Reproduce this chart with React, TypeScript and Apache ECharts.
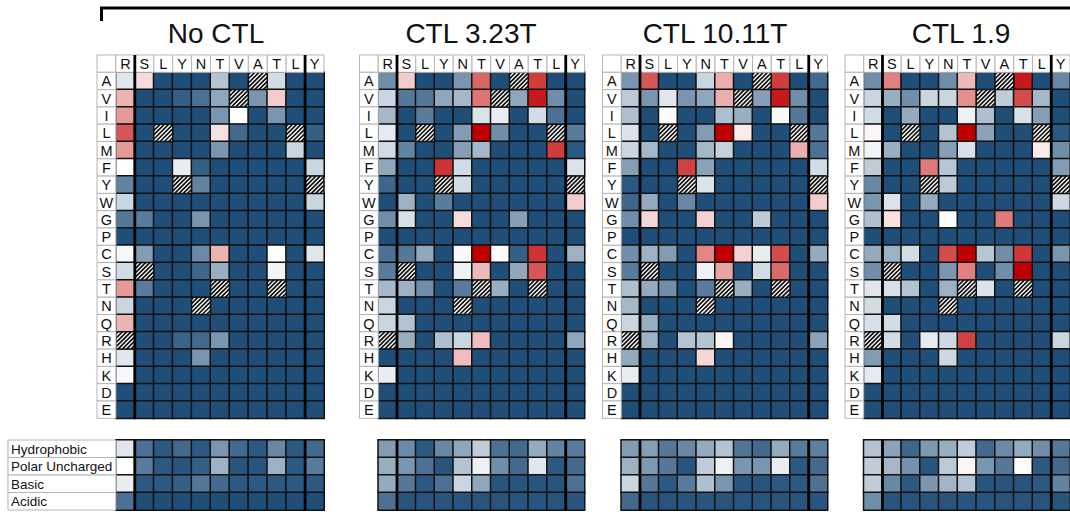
import React, { useEffect, useRef } from 'react';
import * as echarts from 'echarts';

const PANEL_TITLES = ['No CTL', 'CTL 3.23T', 'CTL 10.11T', 'CTL 1.9'];
const COLS = ['R', 'S', 'L', 'Y', 'N', 'T', 'V', 'A', 'T', 'L', 'Y'];
const ROWS = ['A', 'V', 'I', 'L', 'M', 'F', 'Y', 'W', 'G', 'P', 'C', 'S', 'T', 'N', 'Q', 'R', 'H', 'K', 'D', 'E'];
const GROUPS = ['Hydrophobic', 'Polar Uncharged', 'Basic', 'Acidic'];
const SEPARATORS_AFTER = [0, 9];

// 0 = dark blue, 5 = white, 10 = dark red; null = wild-type residue (hatched)
const noCtl = [
  [4.3, 5.7, 0, 0, 0, 3.3, 0, null, 4, 0, 0],
  [6.5, 0, 0, 0.5, 1, 2.5, null, 2, 6, 0, 0],
  [7, 0, 0, 0, 0, 2, 5, 0, 2, 0, 0],
  [8.3, 0, null, 0, 0, 5.6, 0.8, 0, 0, null, 0.5],
  [7, 0, 0, 0, 0, 2, 0, 0, 0, 3.8, 0],
  [5, 0, 0, 4.5, 0.5, 0, 0, 0, 0, 0, 3.8],
  [1.5, 0, 0, null, 1.5, 0, 0, 0, 0, 0, null],
  [3.8, 0, 0, 0, 0, 0, 0, 0, 0, 0, 3.8],
  [1.2, 1.3, 0, 0, 2, 0, 0, 0, 0, 0, 0],
  [0, 0, 0, 0, 0, 0, 0, 0, 0, 0, 0],
  [4.8, 2.2, 0, 0, 1.7, 6.5, 0, 0, 5, 0, 4.3],
  [4, null, 0, 0, 0.7, 2.7, 0, 0, 4.7, 0, 0],
  [7, 1.3, 0, 0, 0, null, 0, 0, null, 0, 0],
  [3.8, 0, 0, 0, null, 0, 0, 0, 0, 0, 0],
  [6.5, 0, 0, 0, 0, 0, 0, 0, 0, 0, 0],
  [null, 0, 0, 0.6, 0.8, 2, 0, 0, 0, 0, 0],
  [4.3, 0, 0, 0, 2, 0, 0, 0, 0, 0, 0],
  [4.8, 0, 0, 0, 0, 0, 0, 0, 0, 0, 0],
  [0, 0, 0, 0, 0, 0, 0, 0, 0, 0, 0],
  [0, 0, 0, 0, 0, 0, 0, 0, 0, 0, 0],
];

const ctl323 = [
  [1.8, 6, 0, 0, 2, 8, 0, null, 8.8, 0, 0],
  [3.8, 1.2, 1.2, 2.5, 3, 7.7, null, 2.5, 9.5, 1.8, 0],
  [3, 0, 1.3, 0, 0, 4.2, 4.5, 0, 4, 1, 0],
  [4.4, 0, null, 0, 2.2, 10, 1.8, 0, 0, null, 1.3],
  [4, 1.5, 0, 0, 2.3, 3, 0, 0, 0, 8.8, 0.3],
  [2.5, 0, 0, 9, 4, 0, 0, 0, 0, 0, 4.2],
  [0.7, 0, 0, null, 4, 0, 0, 0, 0, 0, null],
  [0, 2.8, 0, 1.3, 0, 0, 0, 0, 0, 0, 6],
  [1.8, 4.1, 0, 0, 5.7, 0, 0, 2.3, 0, 0, 0],
  [0, 0, 0, 0, 0, 0, 0, 0, 0, 0, 0],
  [1, 1.2, 2.5, 0, 4.8, 10, 5.1, 0.5, 9, 0, 2.8],
  [1.3, null, 0, 0, 4.6, 6.4, 0, 2.5, 8.3, 0, 0],
  [3, 2.8, 1.8, 0, 1.3, null, 2.7, 0, null, 0, 0],
  [3.8, 0, 0, 0, null, 0, 0, 0, 0, 0, 0],
  [3.8, 3.3, 0, 0, 0, 0, 0, 0, 0, 0, 0],
  [null, 2.7, 0, 3.2, 3.8, 6.3, 0, 0, 0, 0, 2.5],
  [0, 0, 0, 0, 6.3, 0, 0, 0, 0, 0, 0],
  [4.5, 0, 0, 0, 0, 0, 0, 0, 0, 0, 0],
  [0, 0, 0, 0, 0, 0, 0, 0, 0, 0, 0],
  [0, 0, 0, 0, 0, 0, 0, 0, 0, 0, 0],
];

const ctl1011 = [
  [2, 8.3, 0, 0, 3.8, 6.6, 0, null, 8.8, 0, 0.8],
  [3.5, 2, 4.3, 2, 2.5, 6.6, null, 2.3, 9.5, 1.8, 0],
  [3.2, 0, 4.9, 0, 0, 3.2, 2.7, 0, 4.8, 1.2, 0],
  [4.2, 0, null, 0, 2.2, 10, 5.4, 0, 0, null, 1.2],
  [3.8, 3, 0, 0, 3, 3.7, 0, 0, 0, 6.6, 1],
  [2.3, 0, 0, 8.7, 2.4, 0, 0, 0, 0, 0, 4],
  [0.3, 0, 0, null, 4.2, 0, 0, 0, 0, 0, null],
  [0.7, 2.6, 0, 1.6, 0, 0, 0, 0, 0, 0, 6],
  [1.8, 5.8, 0, 0, 5.9, 0, 0, 3.5, 0, 0, 0],
  [0, 0, 0, 0, 0, 0, 0, 0, 0, 0, 0],
  [1.8, 2.8, 2.2, 0, 7.4, 10, 5.9, 4.5, 8.5, 0, 2.6],
  [1.3, null, 0, 0, 4.6, 6.8, 0, 4, 7.9, 0, 0],
  [3.2, 2.6, 1.8, 0, 1.3, null, 2.7, 0, null, 0, 0],
  [3, 0, 0, 0, null, 0, 0, 0, 0, 0, 0],
  [3.8, 2.7, 0, 0, 0, 0, 0, 0, 0, 0, 0],
  [null, 2.8, 0, 3.3, 3.3, 5.2, 0, 0, 0, 0, 2.4],
  [2.6, 0, 0, 0, 5.8, 0, 0, 0, 0, 0, 0],
  [4.5, 0, 0, 0, 0, 0, 0, 0, 0, 0, 0],
  [0, 0, 0, 0, 0, 0, 0, 0, 0, 0, 0],
  [0, 0, 0, 0, 0, 0, 0, 0, 0, 0, 0],
];

const ctl19 = [
  [1.8, 7.5, 0, 0, 1.8, 6.4, 0, null, 9.5, 0, 1.6],
  [3.8, 2.7, 1.8, 3.8, 3.8, 7.2, null, 3.6, 8.5, 3, 0],
  [4, 0, 2.6, 0, 0, 4.6, 3.2, 0, 4.1, 2.3, 0],
  [5.2, 0, null, 0, 3.3, 10, 2.4, 0, 0, null, 0.3],
  [4.7, 2.7, 0, 0, 2.3, 4.1, 0, 0, 0, 5.4, 1.8],
  [3.6, 0, 0, 7.6, 3.4, 0, 0, 0, 0, 0, 2.2],
  [1.6, 0, 0, null, 3.5, 0, 0, 0, 0, 0, null],
  [2, 4.2, 0, 2.6, 0, 0, 0, 0, 0, 0, 3.9],
  [3.2, 5.6, 0, 0, 4.9, 0, 0, 7.6, 0, 0, 0],
  [0, 0, 0, 0, 0, 0, 0, 0, 0, 0, 0],
  [2.6, 2.8, 4, 0, 8.5, 10, 3.4, 1.8, 8.9, 0, 2],
  [1.8, null, 0, 0, 2, 7.5, 0, 1.8, 10, 0, 0],
  [4.3, 4.1, 3.3, 0, 2.8, null, 4.2, 0, null, 0, 0],
  [4, 0, 0, 0, null, 0, 0, 0, 0, 0, 0],
  [4.1, 4, 0, 0, 0, 0, 0, 0, 0, 0, 0],
  [null, 4, 0, 4.4, 3.9, 8.7, 0, 0, 0, 0, 3.8],
  [2.2, 0, 0, 0, 3.9, 0, 0, 0, 0, 0, 0],
  [4.4, 0, 0, 0, 0, 0, 0, 0, 0, 0, 0],
  [0, 0, 0, 0, 0, 0, 0, 0, 0, 0, 0],
  [0, 0, 0, 0, 0, 0, 0, 0, 0, 0, 0],
];

const groupsNoCtl = [
  [4.3, 1, 0.3, 0.8, 0.3, 2, 0.8, 0.3, 1.6, 0.3, 0.8],
  [5, 1.3, 0.3, 0.2, 0.5, 2.8, 0.2, 0.2, 2.8, 0.3, 1.3],
  [4.5, 0.3, 0.3, 0.5, 1.2, 0.8, 0.3, 0.3, 0.3, 0.3, 0.3],
  [1, 0, 0, 0, 0, 0, 0, 0, 0, 0, 0],
];
const groups323 = [
  [2.2, 1.7, 0.3, 1.6, 2.5, 3.6, 1, 0.8, 2.6, 1.5, 1.3],
  [2.7, 2, 1, 0.2, 3.3, 4.6, 1.8, 0.8, 4.3, 0.3, 0.8],
  [2.6, 1.2, 0.3, 1, 3.8, 2.5, 0.2, 0.2, 0.2, 0.2, 1],
  [1, 0.2, 0.2, 0.2, 0.2, 0.2, 0.2, 0.2, 0.2, 0.2, 0.2],
];
const groups1011 = [
  [2.2, 2.3, 1.2, 1.6, 2.6, 3.3, 1.1, 0.8, 2.6, 1.3, 1.4],
  [2.8, 2.1, 1.2, 0.2, 3.6, 4.6, 2, 2, 4.5, 0.3, 0.8],
  [3.8, 1.2, 0.3, 1.3, 3.2, 2, 0.2, 0.2, 0.3, 0.3, 1],
  [0.8, 0.2, 0.2, 0.2, 0.2, 0.2, 0.2, 0.2, 0.2, 0.2, 0.2],
];
const groups19 = [
  [3.3, 2.4, 0.7, 2.1, 2.7, 3.6, 0.8, 1.7, 2.6, 1.8, 1.2],
  [3.6, 3, 1.9, 0.2, 3.5, 5.2, 2, 1.2, 4.9, 0.3, 0.8],
  [3.6, 1.6, 0.3, 2, 2.9, 3.3, 0.2, 0.2, 0.2, 0.3, 1.5],
  [1.8, 0.2, 0.2, 0.2, 0.2, 0.2, 0.2, 0.2, 0.2, 0.2, 0.2],
];

const PANEL_MAIN = [noCtl, ctl323, ctl1011, ctl19];
const PANEL_GROUPS = [groupsNoCtl, groups323, groups1011, groups19];

const FONT = '"Liberation Sans", Arial, Helvetica, sans-serif';
const PANEL_LEFT = [97, 359.5, 602.5, 845];
const PANEL_WIDTH = [227, 225, 225, 225];
const TITLE_X = [216, 471, 715, 961];
const MAIN_TOP = 55;
const ROW_H = 17.3;
const GROUP_TOP = 440;
const GROUP_ROW_H = 17.5;

function buildOption() {
  const grid: any[] = [];
  const xAxis: any[] = [];
  const yAxis: any[] = [];
  const series: any[] = [];
  const heatIdx: number[] = [];
  const graphic: any[] = [];

  const addAxes = (xData: string[], yData: string[]) => {
    const i = xAxis.length;
    xAxis.push({ type: 'category', gridIndex: grid.length - 1, data: xData, show: false });
    yAxis.push({ type: 'category', gridIndex: grid.length - 1, data: yData, inverse: true, show: false });
    return i;
  };

  const sepRender = (nRows: number, offset: number) => (params: any, api: any) => {
    const xi = api.value(0) + offset;
    const a = api.coord([xi, 0]);
    const b = api.coord([xi, nRows - 1]);
    const s = api.size([1, 1]);
    const x = a[0] + s[0] / 2;
    return {
      type: 'line',
      shape: { x1: x, y1: a[1] - s[1] / 2, x2: x, y2: b[1] + s[1] / 2 },
      style: { stroke: '#000', lineWidth: 2.8 },
    };
  };

  PANEL_MAIN.forEach((mat, p) => {
    const left = PANEL_LEFT[p];
    const width = PANEL_WIDTH[p];
    const cw = width / 12;
    // main grid (label column + header row included)
    grid.push({ left, top: MAIN_TOP, width, height: ROW_H * 21 });
    const ai = addAxes(['', ...COLS.map((c, i) => c + i)], ['', ...ROWS]);

    const heat: any[] = [];
    const hatch: any[] = [];
    mat.forEach((row, r) => {
      row.forEach((v, c) => {
        if (v === null) hatch.push([c + 1, r + 1]);
        else heat.push([c + 1, r + 1, v]);
      });
    });
    heatIdx.push(series.length);
    series.push({
      type: 'heatmap', xAxisIndex: ai, yAxisIndex: ai, data: heat,
      itemStyle: { borderColor: '#111', borderWidth: 1.5 },
      emphasis: { disabled: true }, silent: true,
    });

    series.push({
      type: 'custom', xAxisIndex: ai, yAxisIndex: ai, data: hatch, silent: true,
      renderItem: (params: any, api: any) => {
        const c = api.coord([api.value(0), api.value(1)]);
        const s = api.size([1, 1]);
        const w = s[0], h = s[1];
        const x0 = c[0] - w / 2, y0 = c[1] - h / 2;
        const children: any[] = [
          { type: 'rect', shape: { x: x0, y: y0, width: w, height: h }, style: { fill: '#fff' } },
        ];
        const step = 4.3;
        for (let cc = step / 2; cc < w + h; cc += step) {
          const u0 = Math.max(0, cc - h);
          const u1 = Math.min(w, cc);
          children.push({
            type: 'line',
            shape: { x1: x0 + u0, y1: y0 + cc - u0, x2: x0 + u1, y2: y0 + cc - u1 },
            style: { stroke: '#111', lineWidth: 1.7 },
          });
        }
        children.push({ type: 'rect', shape: { x: x0, y: y0, width: w, height: h }, style: { fill: 'none', stroke: '#111', lineWidth: 1.5 } });
        return { type: 'group', children };
      },
    });

    // header and row-label cells
    const labelCells: any[] = [];
    const labelTexts: string[] = [];
    labelCells.push([0, 0]); labelTexts.push('');
    COLS.forEach((c, i) => { labelCells.push([i + 1, 0]); labelTexts.push(c); });
    ROWS.forEach((r, i) => { labelCells.push([0, i + 1]); labelTexts.push(r); });
    series.push({
      type: 'custom', xAxisIndex: ai, yAxisIndex: ai, data: labelCells, silent: true,
      renderItem: (params: any, api: any) => {
        const c = api.coord([api.value(0), api.value(1)]);
        const s = api.size([1, 1]);
        return {
          type: 'group',
          children: [
            { type: 'rect', shape: { x: c[0] - s[0] / 2, y: c[1] - s[1] / 2, width: s[0], height: s[1] }, style: { fill: '#fff', stroke: '#b5b5b5', lineWidth: 1 } },
            { type: 'text', style: { text: labelTexts[params.dataIndex], x: c[0], y: c[1] + 0.5, align: 'center', verticalAlign: 'middle', fontSize: 14.5, fontFamily: FONT, fill: '#111' } },
          ],
        };
      },
    });

    series.push({
      type: 'custom', xAxisIndex: ai, yAxisIndex: ai, data: SEPARATORS_AFTER.map((s) => [s]), silent: true,
      renderItem: sepRender(21, 1),
    });

    // group summary grid
    grid.push({ left: left + cw, top: GROUP_TOP, width: cw * 11, height: GROUP_ROW_H * 4 });
    const bi = addAxes(COLS.map((c, i) => c + i), GROUPS);
    const gdata: any[] = [];
    PANEL_GROUPS[p].forEach((row, r) => row.forEach((v, c) => gdata.push([c, r, v])));
    heatIdx.push(series.length);
    series.push({
      type: 'heatmap', xAxisIndex: bi, yAxisIndex: bi, data: gdata,
      itemStyle: { borderColor: '#111', borderWidth: 1.5 },
      emphasis: { disabled: true }, silent: true,
    });
    series.push({
      type: 'custom', xAxisIndex: bi, yAxisIndex: bi, data: SEPARATORS_AFTER.map((s) => [s]), silent: true,
      renderItem: sepRender(4, 0),
    });

    graphic.push({
      type: 'text', x: TITLE_X[p], y: 33,
      style: { text: PANEL_TITLES[p], align: 'center', verticalAlign: 'middle', fontSize: 28, fontFamily: FONT, fill: '#111' },
    });
  });

  // group label boxes
  const cw0 = PANEL_WIDTH[0] / 12;
  grid.push({ left: 8, top: GROUP_TOP, width: PANEL_LEFT[0] + cw0 - 8, height: GROUP_ROW_H * 4 });
  const li = addAxes(['label'], GROUPS);
  series.push({
    type: 'custom', xAxisIndex: li, yAxisIndex: li, data: GROUPS.map((g, i) => [0, i]), silent: true,
    renderItem: (params: any, api: any) => {
      const c = api.coord([0, api.value(1)]);
      const s = api.size([1, 1]);
      const x0 = c[0] - s[0] / 2;
      return {
        type: 'group',
        children: [
          { type: 'rect', shape: { x: x0, y: c[1] - s[1] / 2, width: s[0], height: s[1] }, style: { fill: '#fff', stroke: '#b5b5b5', lineWidth: 1 } },
          { type: 'text', style: { text: GROUPS[params.dataIndex], x: x0 + 3, y: c[1] + 0.5, align: 'left', verticalAlign: 'middle', fontSize: 13.5, fontFamily: FONT, fill: '#111' } },
        ],
      };
    },
  });

  graphic.push({
    type: 'polyline',
    shape: { points: [[101.5, 21], [101.5, 8], [1072, 8]] },
    style: { stroke: '#000', lineWidth: 3, fill: 'none' },
  });

  return {
    animation: false,
    backgroundColor: '#fff',
    grid, xAxis, yAxis, series, graphic,
    visualMap: {
      type: 'continuous', show: false, min: 0, max: 10, seriesIndex: heatIdx,
      inRange: { color: ['#1f4e79', '#ffffff', '#c00000'] },
    },
  };
}

export default function App() {
  const ref = useRef<HTMLDivElement>(null);
  useEffect(() => {
    document.body.style.margin = '0';
    if (!ref.current) return;
    const chart = echarts.init(ref.current, null, { renderer: 'svg' });
    chart.setOption(buildOption() as any);
    return () => chart.dispose();
  }, []);
  return <div ref={ref} style={{ width: 1070, height: 512 }} />;
}
